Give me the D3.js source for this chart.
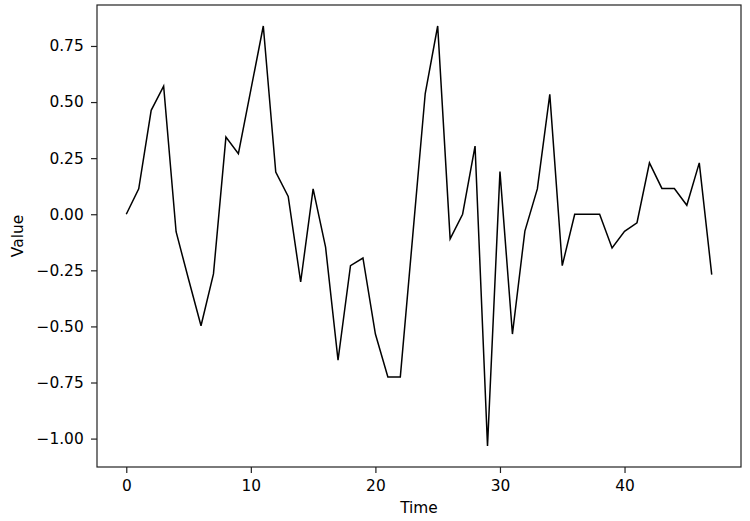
<!DOCTYPE html>
<html>
<head>
<meta charset="utf-8">
<script src="https://cdn.jsdelivr.net/npm/d3@7"></script>
<style>
  html, body { margin: 0; padding: 0; background: #fff; }
  svg { display: block; }
  text { font-family: "DejaVu Sans", sans-serif; }
</style>
</head>
<body>
<svg id="chart" width="750" height="521"></svg>
<script>
// Data
const times = d3.range(0, 48);
const values = [
  0.000, 0.113, 0.463, 0.571, -0.078, -0.290, -0.497, -0.266, 0.344, 0.270,
  0.554, 0.839, 0.188, 0.079, -0.302, 0.113, -0.147, -0.650, -0.229, -0.195,
  -0.534, -0.725, -0.725, -0.094, 0.538, 0.839, -0.110, 0.000, 0.304, -1.033,
  0.190, -0.534, -0.075, 0.113, 0.534, -0.229, 0.000, 0.000, 0.000, -0.150,
  -0.076, -0.038, 0.229, 0.115, 0.115, 0.040, 0.229, -0.269
];
const xTicks = [0, 10, 20, 30, 40];
const yTicks = [-1.00, -0.75, -0.50, -0.25, 0.00, 0.25, 0.50, 0.75];
const xLabel = "Time";
const yLabel = "Value";

const svg = d3.select("#chart");
const mLeft = 97, mRight = 741, mTop = 5, mBottom = 467;
const fontSize = "15.4px";

const xMin = d3.min(times), xMax = d3.max(times);
const xPad = (xMax - xMin) * 0.05;
const yMin = d3.min(values), yMax = d3.max(values);
const yPad = (yMax - yMin) * 0.05;

const x = d3.scaleLinear().domain([xMin - xPad, xMax + xPad]).range([mLeft, mRight]);
const y = d3.scaleLinear().domain([yMin - yPad, yMax + yPad]).range([mBottom, mTop]);

const fmtY = v => d3.format(".2f")(v).replace("-", "\u2212");

// line
const line = d3.line().x((d, i) => x(times[i])).y(d => y(d));
svg.append("path")
  .datum(values)
  .attr("d", line)
  .attr("fill", "none")
  .attr("stroke", "#000")
  .attr("stroke-width", 1.5)
  .attr("stroke-linejoin", "miter");

// axes
const xAxis = d3.axisBottom(x).tickValues(xTicks).tickSize(6).tickPadding(6.8).tickFormat(d3.format("d"));
const yAxis = d3.axisLeft(y).tickValues(yTicks).tickSize(6).tickPadding(7.3).tickFormat(fmtY);

const gx = svg.append("g").attr("transform", `translate(0,${mBottom})`).call(xAxis);
const gy = svg.append("g").attr("transform", `translate(${mLeft},0)`).call(yAxis);
[gx, gy].forEach(g => {
  g.select(".domain").remove();
  g.selectAll(".tick line").attr("stroke", "#222").attr("stroke-width", 1.2);
  g.selectAll(".tick text").attr("fill", "#000").style("font-size", fontSize).style("font-family", "DejaVu Sans, sans-serif");
});

// frame
svg.append("rect")
  .attr("x", mLeft).attr("y", mTop)
  .attr("width", mRight - mLeft).attr("height", mBottom - mTop)
  .attr("fill", "none").attr("stroke", "#222").attr("stroke-width", 1.2);

// axis labels
svg.append("text")
  .attr("x", (mLeft + mRight) / 2).attr("y", 513.3)
  .attr("text-anchor", "middle")
  .style("font-size", fontSize)
  .text(xLabel);
svg.append("text")
  .attr("transform", `translate(23.3,${(mTop + mBottom) / 2}) rotate(-90)`)
  .attr("text-anchor", "middle")
  .style("font-size", fontSize)
  .text(yLabel);
</script>
</body>
</html>
